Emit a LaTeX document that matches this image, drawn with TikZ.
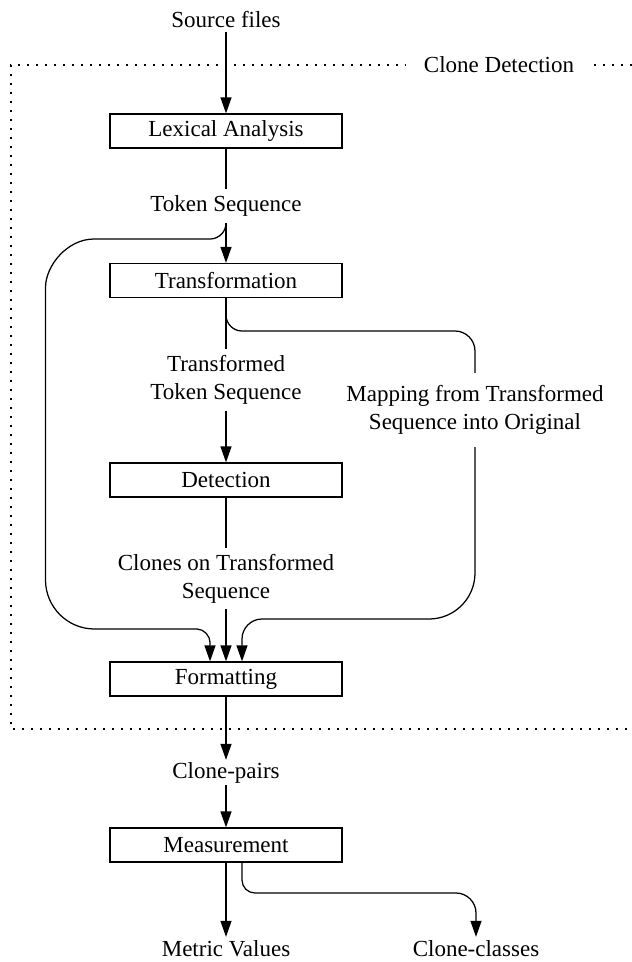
\documentclass[tikz,border=0pt]{standalone}
\usepackage{fontspec}
\setmainfont{Liberation Serif}
\usetikzlibrary{arrows.meta}
\begin{document}
\begin{tikzpicture}[x=1pt,y=-1pt,
  every node/.style={font=\fontsize{23}{28}\selectfont},
  procbox/.style={draw, line width=1.25pt, minimum width=232pt, minimum height=34pt, inner sep=0pt},
  lbl/.style={inner sep=0pt, align=center},
  conn/.style={line width=1.25pt},
  arr/.style={conn, -{Triangle[length=16pt,width=11pt]}},
  frameline/.style={line width=1.2pt, dash pattern=on 1.8pt off 7.2pt}
]
\useasboundingbox (0,0) rectangle (632,962);
% dotted frame of the clone detection part
\draw[frameline] (632,65) -- (11,65) -- (11,729) -- (632,729);
\node[fill=white, inner xsep=18pt, inner ysep=4pt] (cd) at (499,65) {Clone Detection};

% nodes
\node[lbl, minimum height=24pt] (src) at (226,20) {Source files};
\node[procbox] (lex) at (226,131) {Lexical Analysis};
\node[lbl, minimum height=34pt] (tok) at (226,206) {Token Sequence};
\node[procbox] (trans) at (226,280.5) {Transformation};
\node[lbl, minimum height=62pt] (ttok) at (226,380) {Transformed\\Token Sequence};
\node[lbl, minimum height=74pt] (map) at (475,410) {Mapping from Transformed\\Sequence into Original};
\node[procbox] (det) at (226,480) {Detection};
\node[lbl, minimum height=61pt] (clt) at (226,578.5) {Clones on Transformed\\Sequence};
\node[procbox] (fmt) at (226,679) {Formatting};
\node[lbl, minimum height=25pt] (cp) at (226,772.5) {Clone-pairs};
\node[procbox] (meas) at (226,845) {Measurement};
\node[lbl, minimum height=24pt] (mv) at (226,949) {Metric Values};
\node[lbl, minimum height=24pt] (cc) at (476,949) {Clone-classes};

% main chain
\draw[arr] (src) -- (lex);
\draw[conn] (lex) -- (tok);
\draw[arr] (tok) -- (trans);
\draw[conn] (trans) -- (ttok);
\draw[arr] (ttok) -- (det);
\draw[conn] (det) -- (clt);
\draw[arr] (clt) -- (fmt);
\draw[arr] (fmt) -- (cp);
\draw[arr] (cp) -- (meas);
\draw[arr] (meas) -- (mv);

% left branch: token sequence to formatting
\draw[arr] (tok.south) .. controls (226,231.8) and (218.8,239) .. (210,239)
  -- (94,239) .. controls (67.2,239) and (45.5,265.8) .. (45.5,287.5)
  -- (45.5,580) .. controls (45.5,607) and (67.5,629) .. (94.5,629)
  -- (197,629) .. controls (204.2,629) and (210,636.2) .. (210,642)
  -- ([xshift=-16pt]fmt.north);

% right branch: mapping to formatting
\draw[conn] (trans.south) -- (226,315) .. controls (226,323.8) and (233.2,331) .. (242,331)
  -- (455,331) .. controls (466,331) and (475,340) .. (475,351)
  -- (map.north);
\draw[arr] (map.south) -- (475,573) .. controls (475,598.4) and (454.4,619) .. (429,619)
  -- (262,619) .. controls (251,619) and (242,628) .. (242,639)
  -- ([xshift=16pt]fmt.north);

% measurement to clone-classes
\draw[arr] ([xshift=16pt]meas.south) -- (242,880) .. controls (242,887.2) and (247.8,893) .. (255,893)
  -- (456,893) .. controls (467,893) and (476,902) .. (476,913)
  -- (cc.north);
\end{tikzpicture}
\end{document}
